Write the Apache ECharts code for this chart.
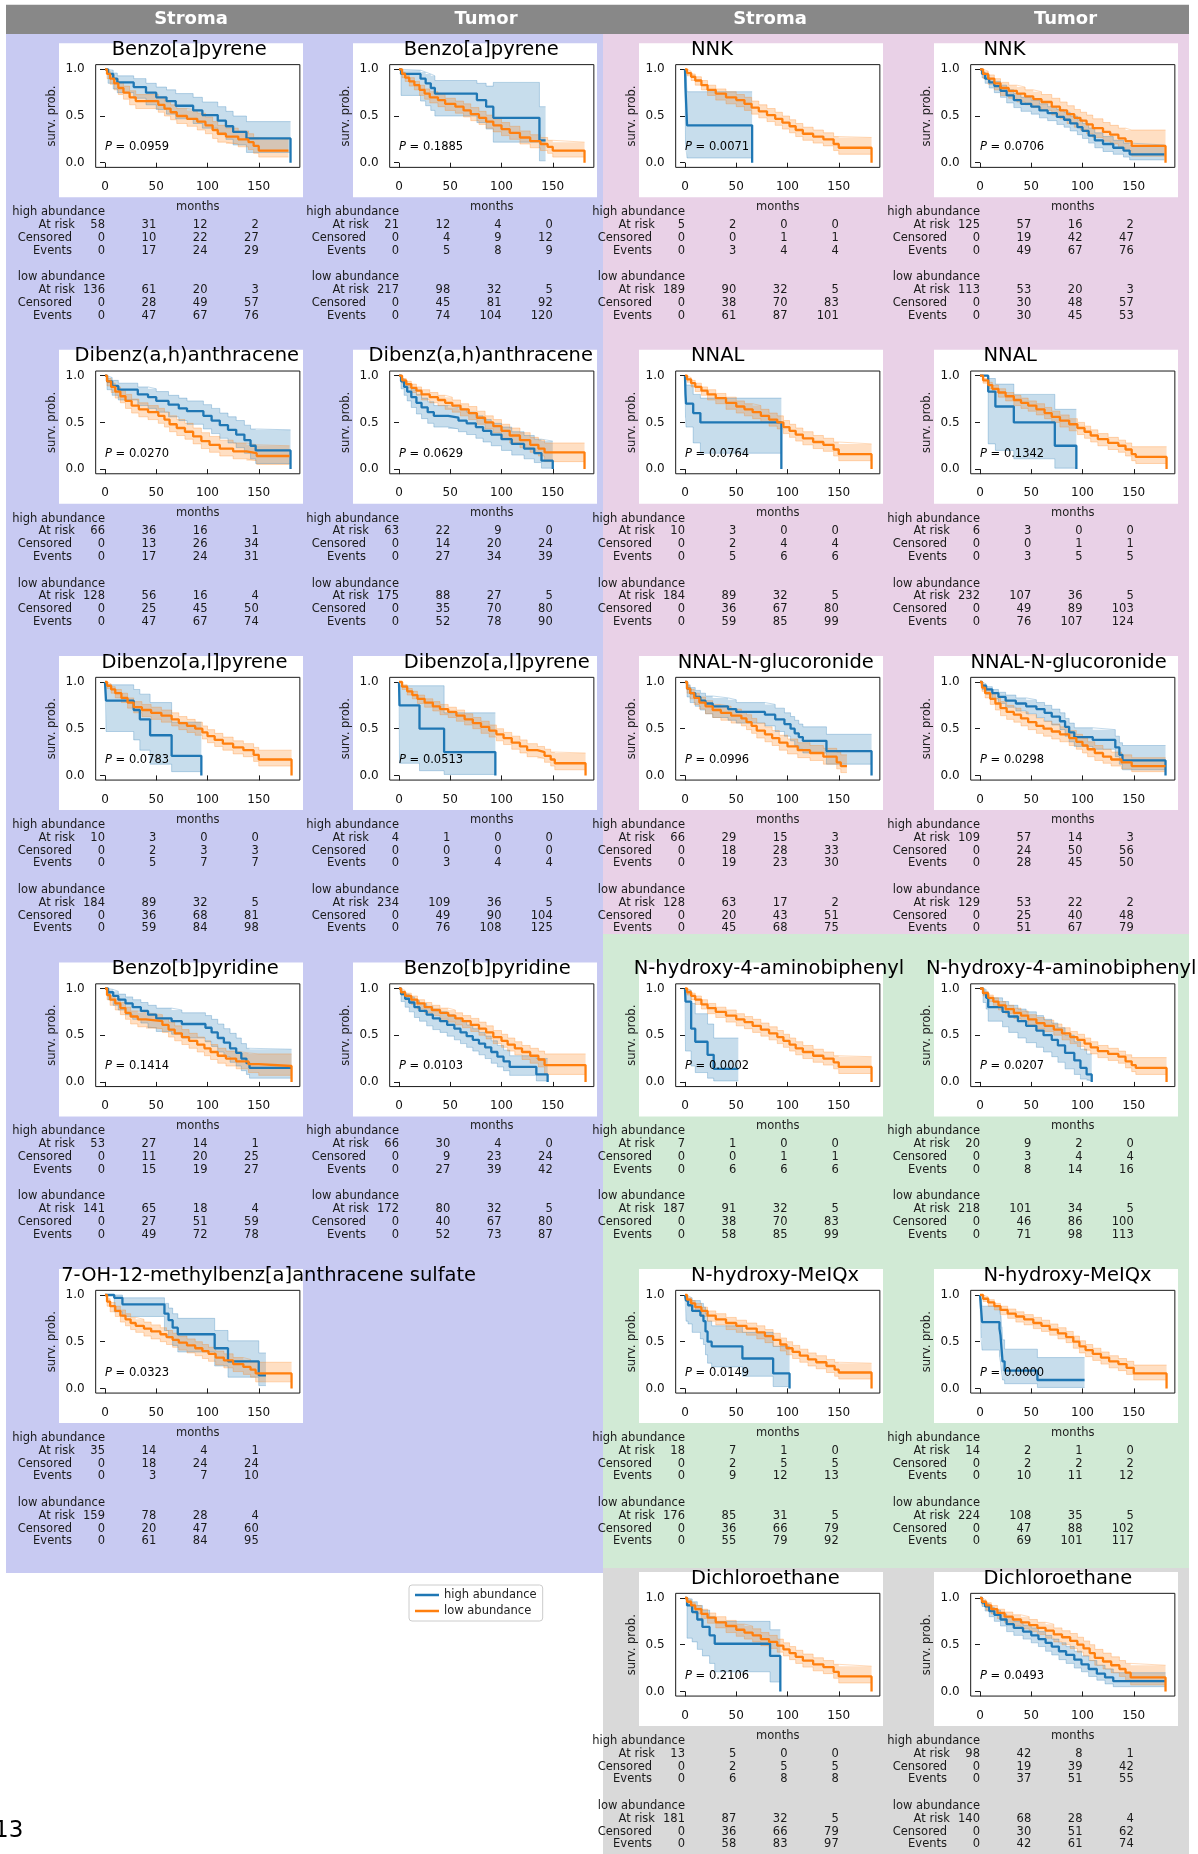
<!DOCTYPE html>
<html><head><meta charset="utf-8">
<script src="https://cdn.jsdelivr.net/npm/echarts@6.0.0/dist/echarts.min.js"></script>
<style>html,body{margin:0;padding:0;background:#fff;}#c{width:1198px;height:1854px;}</style>
</head><body><div id="c"></div>
<script>
// ---------- Kaplan-Meier curves: [months, survival, CI lower, CI upper] ----------
const km_bap_s_hi = [[0,1,1,1],[3,0.95,0.85,0.99],[8,0.9,0.79,0.96],[12,0.86,0.75,0.93],[28,0.81,0.69,0.9],[40,0.75,0.62,0.85],[50,0.7,0.57,0.81],[60,0.66,0.52,0.78],[69,0.61,0.47,0.74],[86,0.56,0.42,0.7],[95,0.51,0.37,0.65],[110,0.45,0.3,0.6],[118,0.39,0.25,0.55],[125,0.33,0.19,0.5],[138,0.26,0.11,0.44],[181,0,0.11,0.44]];
const km_bap_s_lo = [[0,1,1,1],[2,0.95,0.9,0.98],[5,0.9,0.84,0.94],[9,0.85,0.78,0.9],[13,0.8,0.73,0.86],[18,0.75,0.68,0.82],[24,0.7,0.62,0.77],[30,0.66,0.58,0.73],[52,0.62,0.54,0.7],[58,0.58,0.5,0.66],[64,0.54,0.46,0.62],[70,0.5,0.42,0.58],[80,0.47,0.39,0.56],[90,0.44,0.35,0.53],[98,0.4,0.31,0.49],[105,0.35,0.26,0.44],[110,0.31,0.22,0.4],[118,0.28,0.2,0.37],[130,0.25,0.17,0.34],[140,0.22,0.14,0.31],[145,0.18,0.1,0.27],[150,0.13,0.06,0.25],[179,0.13,0.06,0.25]];
const km_bap_t_hi = [[0,1,1,1],[2,0.95,0.72,0.99],[21,0.9,0.66,0.97],[26,0.85,0.61,0.95],[31,0.8,0.56,0.93],[35,0.74,0.5,0.88],[76,0.67,0.43,0.85],[85,0.6,0.36,0.82],[92,0.48,0.22,0.86],[137,0.24,0.02,0.6],[143,0.24,0.02,0.6]];
const km_bap_t_lo = [[0,1,1,1],[3,0.95,0.91,0.97],[6,0.91,0.87,0.94],[10,0.87,0.82,0.91],[15,0.83,0.78,0.87],[20,0.78,0.72,0.83],[25,0.74,0.68,0.79],[30,0.7,0.64,0.76],[38,0.67,0.6,0.73],[45,0.63,0.56,0.69],[55,0.6,0.53,0.66],[63,0.56,0.49,0.63],[70,0.52,0.45,0.59],[78,0.48,0.41,0.55],[85,0.44,0.37,0.51],[92,0.4,0.33,0.47],[100,0.36,0.29,0.43],[108,0.32,0.25,0.39],[118,0.27,0.2,0.34],[128,0.23,0.16,0.3],[138,0.2,0.13,0.27],[145,0.17,0.1,0.24],[150,0.13,0.06,0.22],[181,0,0.06,0.22]];
const km_nnk_s_hi = [[0,1,1,1],[0.5,0.8,0.2,0.97],[2,0.4,0.05,0.76],[65.5,0,0.05,0.76]];
const km_nnk_s_lo = [[0,1,1,1],[2,0.96,0.93,0.98],[6,0.92,0.88,0.95],[10,0.88,0.83,0.92],[16,0.83,0.78,0.88],[22,0.78,0.72,0.83],[30,0.74,0.67,0.79],[40,0.7,0.63,0.76],[50,0.67,0.6,0.73],[58,0.63,0.56,0.7],[65,0.59,0.52,0.66],[72,0.55,0.48,0.62],[80,0.51,0.44,0.58],[88,0.47,0.4,0.54],[95,0.43,0.36,0.5],[102,0.39,0.32,0.46],[108,0.35,0.28,0.42],[115,0.31,0.24,0.38],[125,0.28,0.21,0.35],[135,0.25,0.18,0.32],[145,0.2,0.13,0.28],[150,0.16,0.09,0.27],[182,0,0.09,0.27]];
const km_nnk_t_hi = [[0,1,1,1],[2,0.95,0.91,0.97],[5,0.9,0.85,0.94],[9,0.86,0.8,0.9],[14,0.82,0.75,0.87],[20,0.77,0.7,0.83],[26,0.72,0.64,0.78],[33,0.67,0.59,0.74],[40,0.63,0.55,0.7],[50,0.6,0.52,0.67],[58,0.56,0.48,0.63],[66,0.53,0.45,0.6],[75,0.49,0.41,0.57],[82,0.46,0.38,0.54],[88,0.42,0.34,0.5],[95,0.38,0.3,0.46],[100,0.34,0.26,0.42],[106,0.29,0.21,0.37],[112,0.24,0.16,0.32],[120,0.2,0.12,0.28],[130,0.16,0.09,0.24],[140,0.13,0.06,0.21],[146,0.09,0.03,0.19],[180,0.09,0.03,0.19]];
const km_nnk_t_lo = [[0,1,1,1],[3,0.95,0.9,0.98],[8,0.9,0.84,0.94],[14,0.85,0.78,0.9],[20,0.8,0.72,0.86],[28,0.77,0.69,0.83],[36,0.74,0.65,0.81],[44,0.71,0.62,0.78],[52,0.68,0.59,0.76],[60,0.65,0.56,0.73],[70,0.6,0.51,0.69],[78,0.56,0.47,0.65],[85,0.52,0.42,0.61],[92,0.48,0.38,0.57],[98,0.45,0.35,0.54],[104,0.41,0.31,0.51],[110,0.37,0.27,0.47],[120,0.33,0.23,0.43],[127,0.3,0.2,0.4],[135,0.26,0.16,0.37],[142,0.23,0.13,0.35],[148,0.18,0.07,0.35],[181,0,0.07,0.35]];
const km_dbah_s_hi = [[0,1,1,1],[2,0.94,0.85,0.98],[7,0.89,0.79,0.95],[13,0.85,0.74,0.92],[32,0.8,0.68,0.88],[42,0.77,0.65,0.86],[50,0.73,0.61,0.83],[62,0.69,0.56,0.79],[72,0.65,0.52,0.76],[80,0.62,0.48,0.73],[96,0.57,0.43,0.69],[104,0.52,0.38,0.65],[112,0.47,0.33,0.6],[120,0.42,0.28,0.56],[128,0.37,0.23,0.52],[136,0.31,0.17,0.47],[142,0.25,0.11,0.43],[147,0.2,0.06,0.42],[181,0,0.06,0.42]];
const km_dbah_s_lo = [[0,1,1,1],[2,0.94,0.89,0.97],[6,0.88,0.82,0.92],[10,0.83,0.76,0.88],[15,0.78,0.71,0.84],[20,0.73,0.65,0.8],[26,0.68,0.6,0.75],[33,0.64,0.56,0.71],[42,0.61,0.53,0.68],[52,0.57,0.49,0.65],[58,0.53,0.45,0.61],[63,0.48,0.4,0.57],[70,0.44,0.36,0.53],[78,0.4,0.32,0.49],[86,0.35,0.27,0.44],[94,0.3,0.22,0.39],[102,0.26,0.18,0.35],[112,0.22,0.14,0.31],[125,0.19,0.11,0.28],[138,0.17,0.09,0.26],[148,0.14,0.05,0.25],[180,0.14,0.05,0.25]];
const km_dbah_t_hi = [[0,1,1,1],[2,0.94,0.86,0.97],[5,0.88,0.79,0.94],[8,0.83,0.73,0.9],[12,0.77,0.66,0.85],[17,0.71,0.59,0.8],[22,0.66,0.54,0.76],[28,0.61,0.49,0.72],[34,0.57,0.45,0.68],[48,0.55,0.43,0.66],[58,0.52,0.4,0.64],[66,0.49,0.37,0.61],[75,0.45,0.33,0.57],[82,0.41,0.29,0.53],[90,0.37,0.25,0.49],[100,0.32,0.2,0.45],[110,0.27,0.15,0.4],[122,0.22,0.11,0.36],[132,0.17,0.07,0.32],[139,0.09,0.01,0.3],[150,0,0.01,0.3]];
const km_dbah_t_lo = [[0,1,1,1],[3,0.95,0.92,0.97],[7,0.91,0.87,0.94],[12,0.87,0.82,0.91],[17,0.84,0.79,0.88],[22,0.8,0.74,0.85],[30,0.77,0.71,0.82],[38,0.74,0.68,0.79],[45,0.71,0.64,0.77],[52,0.68,0.61,0.74],[60,0.64,0.57,0.7],[68,0.6,0.53,0.67],[76,0.55,0.48,0.62],[84,0.5,0.43,0.57],[92,0.46,0.39,0.53],[100,0.41,0.33,0.48],[108,0.36,0.28,0.44],[118,0.31,0.23,0.39],[128,0.26,0.18,0.34],[136,0.22,0.14,0.31],[142,0.18,0.08,0.28],[181,0,0.08,0.28]];
const km_nnal_s_hi = [[0,1,1,1],[0.5,0.8,0.55,0.97],[1,0.7,0.45,0.9],[8,0.6,0.28,0.8],[15,0.5,0.17,0.76],[94,0,0.17,0.76]];
const km_nnal_s_lo = [[0,1,1,1],[2,0.96,0.93,0.98],[6,0.92,0.88,0.95],[10,0.88,0.83,0.92],[16,0.84,0.79,0.88],[22,0.8,0.74,0.85],[30,0.76,0.7,0.81],[40,0.71,0.64,0.77],[50,0.67,0.6,0.73],[58,0.64,0.57,0.7],[66,0.61,0.54,0.68],[74,0.57,0.5,0.64],[82,0.53,0.46,0.6],[90,0.5,0.43,0.57],[96,0.45,0.38,0.52],[102,0.41,0.34,0.48],[108,0.37,0.3,0.44],[115,0.33,0.26,0.4],[125,0.29,0.22,0.36],[135,0.26,0.19,0.33],[145,0.21,0.14,0.29],[150,0.16,0.09,0.27],[182,0,0.09,0.27]];
const km_nnal_t_hi = [[0,1,1,1],[8,0.83,0.27,0.97],[15,0.67,0.2,0.91],[33,0.5,0.11,0.8],[73,0.25,0.01,0.64],[94,0,0.01,0.64]];
const km_nnal_t_lo = [[0,1,1,1],[3,0.95,0.92,0.97],[8,0.9,0.86,0.93],[12,0.86,0.82,0.9],[18,0.82,0.77,0.86],[25,0.78,0.73,0.82],[33,0.74,0.68,0.79],[40,0.71,0.65,0.76],[47,0.68,0.62,0.73],[55,0.64,0.58,0.7],[63,0.6,0.54,0.66],[70,0.56,0.5,0.62],[78,0.52,0.45,0.58],[87,0.48,0.41,0.54],[95,0.44,0.37,0.5],[102,0.4,0.33,0.46],[108,0.36,0.29,0.42],[115,0.32,0.25,0.38],[125,0.28,0.21,0.34],[135,0.25,0.18,0.31],[142,0.21,0.14,0.28],[148,0.16,0.09,0.24],[152,0.13,0.06,0.24],[182,0,0.06,0.24]];
const km_dbal_s_hi = [[0,1,1,1],[1,0.8,0.47,0.97],[28,0.7,0.38,0.92],[34,0.6,0.27,0.87],[44,0.43,0.12,0.78],[65,0.21,0.04,0.57],[94,0,0.04,0.57]];
const km_dbal_s_lo = [[0,1,1,1],[2,0.96,0.93,0.98],[6,0.92,0.88,0.95],[10,0.88,0.83,0.92],[16,0.83,0.78,0.88],[22,0.78,0.72,0.83],[28,0.73,0.67,0.79],[36,0.7,0.63,0.76],[45,0.67,0.6,0.73],[55,0.64,0.57,0.7],[65,0.6,0.53,0.67],[72,0.56,0.49,0.63],[80,0.53,0.46,0.6],[88,0.5,0.43,0.57],[95,0.46,0.39,0.53],[100,0.42,0.35,0.49],[107,0.38,0.31,0.45],[115,0.34,0.27,0.41],[125,0.3,0.23,0.37],[135,0.27,0.2,0.34],[145,0.22,0.15,0.3],[150,0.17,0.1,0.27],[182,0,0.1,0.27]];
const km_dbal_t_hi = [[0,1,1,1],[0.5,0.75,0.13,0.96],[20,0.5,0.05,0.96],[44,0.25,0.01,0.67],[94,0,0.01,0.67]];
const km_dbal_t_lo = [[0,1,1,1],[3,0.95,0.92,0.97],[8,0.9,0.86,0.93],[13,0.86,0.82,0.9],[18,0.82,0.77,0.86],[25,0.78,0.73,0.82],[33,0.74,0.69,0.79],[40,0.71,0.65,0.76],[48,0.68,0.62,0.73],[56,0.64,0.58,0.7],[64,0.6,0.54,0.66],[72,0.56,0.5,0.62],[80,0.52,0.45,0.58],[88,0.48,0.41,0.54],[95,0.44,0.37,0.5],[102,0.4,0.33,0.46],[110,0.35,0.28,0.42],[118,0.31,0.24,0.38],[125,0.27,0.2,0.34],[135,0.25,0.18,0.31],[142,0.21,0.14,0.28],[148,0.17,0.1,0.25],[152,0.13,0.06,0.24],[182,0,0.06,0.24]];
const km_nnalg_s_hi = [[0,1,1,1],[2,0.93,0.84,0.97],[5,0.88,0.78,0.94],[10,0.84,0.74,0.91],[15,0.8,0.7,0.88],[20,0.77,0.66,0.85],[27,0.74,0.62,0.83],[42,0.71,0.59,0.81],[50,0.68,0.56,0.78],[78,0.65,0.53,0.76],[88,0.6,0.47,0.72],[97,0.55,0.42,0.67],[103,0.5,0.37,0.63],[107,0.45,0.32,0.59],[111,0.41,0.28,0.55],[115,0.37,0.24,0.52],[138,0.26,0.12,0.44],[182,0,0.12,0.44]];
const km_nnalg_s_lo = [[0,1,1,1],[2,0.93,0.88,0.96],[5,0.88,0.82,0.92],[9,0.83,0.76,0.88],[14,0.78,0.71,0.84],[20,0.74,0.66,0.8],[27,0.7,0.62,0.76],[35,0.67,0.59,0.74],[45,0.64,0.56,0.71],[55,0.61,0.53,0.68],[60,0.57,0.49,0.65],[65,0.53,0.45,0.61],[70,0.48,0.4,0.56],[78,0.44,0.36,0.52],[85,0.4,0.32,0.48],[92,0.35,0.27,0.43],[100,0.31,0.23,0.39],[110,0.27,0.19,0.35],[122,0.24,0.16,0.32],[135,0.2,0.12,0.29],[148,0.14,0.07,0.25],[152,0.1,0.03,0.22],[158,0.1,0.03,0.22]];
const km_nnalg_t_hi = [[0,1,1,1],[2,0.96,0.92,0.98],[6,0.92,0.87,0.95],[12,0.88,0.82,0.92],[18,0.84,0.77,0.89],[25,0.8,0.73,0.86],[35,0.77,0.69,0.83],[45,0.74,0.66,0.81],[55,0.71,0.62,0.78],[63,0.67,0.58,0.75],[70,0.63,0.54,0.71],[78,0.58,0.49,0.67],[83,0.52,0.42,0.61],[87,0.46,0.36,0.56],[92,0.41,0.31,0.51],[110,0.38,0.28,0.49],[132,0.3,0.2,0.42],[136,0.22,0.12,0.35],[139,0.16,0.06,0.32],[181,0,0.06,0.32]];
const km_nnalg_t_lo = [[0,1,1,1],[2,0.94,0.9,0.97],[5,0.88,0.83,0.92],[10,0.82,0.76,0.87],[15,0.77,0.7,0.83],[20,0.72,0.64,0.79],[26,0.68,0.6,0.75],[33,0.65,0.57,0.72],[40,0.61,0.53,0.68],[47,0.57,0.49,0.65],[55,0.53,0.45,0.61],[62,0.5,0.42,0.58],[70,0.47,0.39,0.55],[78,0.44,0.36,0.52],[87,0.4,0.32,0.48],[94,0.36,0.28,0.44],[100,0.32,0.24,0.4],[105,0.28,0.2,0.36],[112,0.24,0.16,0.32],[120,0.2,0.13,0.28],[128,0.17,0.1,0.25],[138,0.14,0.07,0.22],[148,0.1,0.04,0.19],[181,0.1,0.04,0.19]];
const km_bbp_s_hi = [[0,1,1,1],[3,0.96,0.88,0.99],[8,0.92,0.82,0.97],[13,0.88,0.77,0.94],[20,0.84,0.72,0.91],[27,0.8,0.67,0.88],[35,0.76,0.63,0.85],[42,0.72,0.58,0.82],[50,0.68,0.54,0.79],[65,0.65,0.51,0.77],[75,0.62,0.47,0.74],[98,0.58,0.43,0.71],[104,0.53,0.38,0.67],[110,0.47,0.32,0.62],[116,0.42,0.27,0.57],[122,0.36,0.21,0.52],[128,0.31,0.17,0.47],[133,0.25,0.12,0.41],[138,0.2,0.08,0.36],[141,0.15,0.04,0.35],[182,0.15,0.04,0.35]];
const km_bbp_s_lo = [[0,1,1,1],[2,0.93,0.88,0.96],[5,0.88,0.82,0.92],[10,0.84,0.77,0.89],[15,0.79,0.72,0.85],[20,0.74,0.67,0.8],[25,0.7,0.62,0.76],[32,0.67,0.59,0.74],[40,0.65,0.57,0.72],[56,0.61,0.53,0.68],[62,0.56,0.48,0.64],[68,0.52,0.44,0.6],[75,0.48,0.4,0.56],[82,0.44,0.36,0.52],[90,0.4,0.32,0.48],[97,0.36,0.28,0.44],[103,0.32,0.24,0.4],[110,0.28,0.2,0.36],[118,0.25,0.17,0.33],[128,0.22,0.14,0.31],[140,0.19,0.1,0.3],[150,0.17,0.07,0.3],[182,0,0.07,0.3]];
const km_bbp_t_hi = [[0,1,1,1],[2,0.94,0.86,0.97],[6,0.89,0.8,0.94],[10,0.85,0.75,0.91],[15,0.8,0.69,0.87],[20,0.76,0.65,0.84],[27,0.72,0.6,0.81],[33,0.68,0.56,0.78],[40,0.65,0.53,0.75],[47,0.61,0.49,0.72],[54,0.57,0.45,0.68],[60,0.53,0.41,0.65],[66,0.49,0.37,0.61],[72,0.45,0.33,0.57],[78,0.41,0.29,0.53],[84,0.37,0.25,0.49],[90,0.32,0.2,0.44],[96,0.27,0.16,0.39],[102,0.22,0.12,0.34],[108,0.16,0.07,0.28],[134,0.08,0.01,0.25],[145,0,0.01,0.25]];
const km_bbp_t_lo = [[0,1,1,1],[2,0.96,0.93,0.98],[6,0.92,0.88,0.95],[12,0.88,0.83,0.92],[18,0.84,0.78,0.88],[25,0.8,0.74,0.85],[32,0.77,0.71,0.82],[40,0.74,0.67,0.79],[48,0.71,0.64,0.77],[55,0.68,0.61,0.74],[62,0.65,0.58,0.71],[70,0.61,0.54,0.68],[78,0.57,0.5,0.64],[85,0.53,0.46,0.6],[92,0.48,0.41,0.55],[100,0.44,0.37,0.51],[106,0.4,0.33,0.47],[113,0.36,0.29,0.43],[120,0.32,0.24,0.39],[128,0.28,0.2,0.36],[136,0.24,0.16,0.33],[142,0.18,0.08,0.3],[182,0,0.08,0.3]];
const km_nh4_s_hi = [[0,1,1,1],[0.5,0.86,0.33,0.98],[6,0.57,0.17,0.84],[10,0.43,0.1,0.73],[22,0.29,0.04,0.62],[28,0.14,0.01,0.47],[52,0.14,0.01,0.47]];
const km_nh4_s_lo = [[0,1,1,1],[2,0.96,0.93,0.98],[6,0.92,0.88,0.95],[10,0.88,0.83,0.92],[16,0.83,0.78,0.88],[22,0.79,0.73,0.84],[30,0.75,0.69,0.8],[40,0.71,0.64,0.77],[50,0.67,0.6,0.73],[58,0.64,0.57,0.7],[66,0.6,0.53,0.67],[74,0.56,0.49,0.63],[82,0.52,0.45,0.59],[90,0.48,0.41,0.55],[96,0.44,0.37,0.51],[102,0.4,0.33,0.47],[108,0.36,0.29,0.43],[115,0.32,0.25,0.39],[125,0.28,0.21,0.35],[135,0.25,0.18,0.32],[145,0.21,0.14,0.28],[150,0.16,0.09,0.27],[182,0,0.09,0.27]];
const km_nh4_t_hi = [[0,1,1,1],[3,0.95,0.85,0.99],[6,0.9,0.78,0.96],[8,0.8,0.65,0.9],[22,0.75,0.59,0.86],[28,0.7,0.53,0.82],[37,0.65,0.47,0.78],[45,0.6,0.42,0.75],[55,0.55,0.37,0.71],[62,0.5,0.32,0.67],[70,0.45,0.27,0.63],[76,0.39,0.21,0.58],[83,0.31,0.14,0.5],[92,0.23,0.08,0.43],[98,0.15,0.03,0.35],[104,0.08,0.01,0.3],[109,0,0.01,0.3]];
const km_nh4_t_lo = [[0,1,1,1],[3,0.95,0.92,0.97],[8,0.9,0.86,0.93],[13,0.86,0.82,0.9],[18,0.82,0.77,0.86],[25,0.78,0.73,0.82],[33,0.74,0.68,0.79],[40,0.71,0.65,0.76],[47,0.67,0.61,0.72],[55,0.63,0.57,0.69],[63,0.6,0.54,0.66],[72,0.56,0.5,0.62],[80,0.52,0.45,0.58],[88,0.48,0.41,0.54],[95,0.45,0.38,0.51],[102,0.41,0.34,0.47],[108,0.37,0.3,0.43],[115,0.33,0.26,0.39],[125,0.3,0.23,0.36],[135,0.27,0.2,0.33],[142,0.22,0.15,0.29],[148,0.18,0.11,0.26],[152,0.15,0.08,0.26],[182,0,0.08,0.26]];
const km_oh7_s_hi = [[0,1,1,1],[9,0.97,0.82,1.0],[17,0.9,0.77,0.97],[58,0.8,0.62,0.91],[62,0.73,0.54,0.86],[66,0.65,0.46,0.8],[71,0.58,0.39,0.75],[107,0.43,0.24,0.62],[120,0.29,0.12,0.51],[150,0.14,0.03,0.38],[157,0.14,0.03,0.38]];
const km_oh7_s_lo = [[0,1,1,1],[2,0.93,0.88,0.96],[5,0.88,0.82,0.92],[10,0.83,0.77,0.88],[15,0.78,0.71,0.84],[20,0.74,0.67,0.8],[25,0.7,0.63,0.76],[30,0.67,0.6,0.74],[38,0.64,0.56,0.71],[45,0.61,0.53,0.68],[54,0.58,0.5,0.65],[60,0.55,0.47,0.62],[66,0.52,0.44,0.59],[72,0.49,0.41,0.56],[80,0.46,0.38,0.53],[88,0.43,0.35,0.5],[95,0.4,0.32,0.47],[101,0.37,0.29,0.44],[108,0.33,0.25,0.4],[116,0.3,0.22,0.37],[125,0.26,0.18,0.33],[135,0.23,0.15,0.31],[142,0.2,0.12,0.28],[147,0.16,0.07,0.28],[182,0,0.07,0.28]];
const km_meiqx_s_hi = [[0,1,1,1],[1,0.94,0.72,0.99],[3,0.89,0.69,0.97],[7,0.83,0.6,0.94],[15,0.78,0.53,0.91],[18,0.72,0.47,0.87],[20,0.61,0.36,0.8],[22,0.5,0.27,0.72],[26,0.45,0.23,0.67],[56,0.32,0.13,0.6],[86,0.16,0.02,0.45],[102,0,0.02,0.45]];
const km_meiqx_s_lo = [[0,1,1,1],[2,0.95,0.92,0.97],[6,0.91,0.87,0.94],[10,0.87,0.82,0.91],[16,0.83,0.77,0.87],[22,0.78,0.72,0.83],[30,0.74,0.68,0.8],[40,0.7,0.63,0.76],[50,0.67,0.6,0.73],[60,0.64,0.57,0.7],[70,0.6,0.53,0.67],[78,0.56,0.49,0.63],[86,0.52,0.45,0.59],[93,0.47,0.4,0.54],[99,0.43,0.36,0.5],[105,0.39,0.32,0.46],[112,0.35,0.28,0.42],[120,0.31,0.24,0.38],[128,0.28,0.21,0.35],[138,0.24,0.17,0.31],[146,0.2,0.13,0.28],[150,0.17,0.1,0.27],[182,0,0.1,0.27]];
const km_meiqx_t_hi = [[0,1,1,1],[1,0.86,0.54,0.96],[2,0.71,0.41,0.88],[19,0.64,0.34,0.84],[20,0.57,0.28,0.78],[21,0.43,0.18,0.66],[22,0.29,0.09,0.52],[24,0.19,0.05,0.42],[56,0.09,0.01,0.33],[102,0.09,0.01,0.33]];
const km_meiqx_t_lo = [[0,1,1,1],[3,0.96,0.93,0.98],[8,0.92,0.88,0.95],[14,0.88,0.84,0.91],[20,0.84,0.79,0.88],[27,0.8,0.75,0.85],[35,0.77,0.71,0.82],[43,0.74,0.68,0.79],[52,0.7,0.64,0.76],[60,0.67,0.61,0.73],[68,0.63,0.57,0.69],[76,0.59,0.53,0.65],[84,0.55,0.49,0.61],[91,0.5,0.43,0.56],[97,0.45,0.38,0.51],[103,0.41,0.34,0.47],[110,0.37,0.3,0.43],[118,0.33,0.26,0.39],[126,0.29,0.22,0.35],[135,0.26,0.19,0.32],[143,0.22,0.15,0.29],[150,0.16,0.09,0.25],[182,0,0.09,0.25]];
const km_dce_s_hi = [[0,1,1,1],[2,0.92,0.57,0.99],[7,0.85,0.53,0.96],[12,0.77,0.45,0.92],[17,0.69,0.38,0.87],[24,0.6,0.3,0.8],[29,0.51,0.21,0.75],[83,0.38,0.1,0.66],[93,0,0.1,0.66]];
const km_dce_s_lo = [[0,1,1,1],[2,0.96,0.93,0.98],[6,0.92,0.88,0.95],[10,0.88,0.83,0.92],[16,0.83,0.78,0.88],[22,0.79,0.73,0.84],[30,0.74,0.68,0.8],[40,0.7,0.63,0.76],[50,0.66,0.59,0.72],[58,0.63,0.56,0.7],[66,0.6,0.53,0.67],[74,0.56,0.49,0.63],[82,0.53,0.46,0.6],[90,0.49,0.42,0.56],[96,0.45,0.38,0.52],[102,0.41,0.34,0.48],[108,0.37,0.3,0.44],[115,0.33,0.26,0.4],[125,0.29,0.22,0.36],[135,0.26,0.19,0.33],[145,0.21,0.14,0.29],[150,0.16,0.09,0.27],[182,0,0.09,0.27]];
const km_dce_t_hi = [[0,1,1,1],[2,0.95,0.91,0.97],[5,0.91,0.86,0.94],[9,0.86,0.8,0.9],[14,0.82,0.75,0.87],[20,0.77,0.7,0.83],[26,0.72,0.64,0.79],[33,0.68,0.6,0.75],[42,0.64,0.56,0.71],[50,0.6,0.52,0.68],[57,0.56,0.48,0.64],[64,0.52,0.43,0.6],[70,0.48,0.39,0.56],[77,0.43,0.34,0.52],[84,0.39,0.3,0.48],[92,0.34,0.25,0.43],[99,0.29,0.21,0.38],[106,0.24,0.16,0.33],[114,0.19,0.12,0.28],[122,0.15,0.08,0.24],[130,0.11,0.05,0.2],[181,0.11,0.05,0.2]];
const km_dce_t_lo = [[0,1,1,1],[2,0.96,0.93,0.98],[6,0.92,0.87,0.95],[11,0.88,0.83,0.92],[17,0.84,0.78,0.88],[24,0.8,0.74,0.85],[32,0.77,0.7,0.82],[40,0.74,0.67,0.8],[48,0.71,0.64,0.77],[56,0.68,0.61,0.74],[64,0.65,0.57,0.72],[72,0.61,0.53,0.68],[80,0.58,0.5,0.65],[88,0.54,0.46,0.62],[95,0.5,0.42,0.58],[101,0.46,0.38,0.54],[107,0.41,0.33,0.5],[112,0.36,0.28,0.45],[120,0.32,0.24,0.41],[128,0.28,0.2,0.37],[136,0.24,0.16,0.33],[142,0.2,0.12,0.3],[147,0.15,0.07,0.28],[181,0,0.07,0.28]];

// ---------- number-at-risk tables: [At risk], [Censored], [Events] at 0/50/100/150 months ----------
const rk_bap_s_hi = [[58,31,12,2],[0,10,22,27],[0,17,24,29]];
const rk_bap_s_lo = [[136,61,20,3],[0,28,49,57],[0,47,67,76]];
const rk_bap_t_hi = [[21,12,4,0],[0,4,9,12],[0,5,8,9]];
const rk_bap_t_lo = [[217,98,32,5],[0,45,81,92],[0,74,104,120]];
const rk_nnk_s_hi = [[5,2,0,0],[0,0,1,1],[0,3,4,4]];
const rk_nnk_s_lo = [[189,90,32,5],[0,38,70,83],[0,61,87,101]];
const rk_nnk_t_hi = [[125,57,16,2],[0,19,42,47],[0,49,67,76]];
const rk_nnk_t_lo = [[113,53,20,3],[0,30,48,57],[0,30,45,53]];
const rk_dbah_s_hi = [[66,36,16,1],[0,13,26,34],[0,17,24,31]];
const rk_dbah_s_lo = [[128,56,16,4],[0,25,45,50],[0,47,67,74]];
const rk_dbah_t_hi = [[63,22,9,0],[0,14,20,24],[0,27,34,39]];
const rk_dbah_t_lo = [[175,88,27,5],[0,35,70,80],[0,52,78,90]];
const rk_nnal_s_hi = [[10,3,0,0],[0,2,4,4],[0,5,6,6]];
const rk_nnal_s_lo = [[184,89,32,5],[0,36,67,80],[0,59,85,99]];
const rk_nnal_t_hi = [[6,3,0,0],[0,0,1,1],[0,3,5,5]];
const rk_nnal_t_lo = [[232,107,36,5],[0,49,89,103],[0,76,107,124]];
const rk_dbal_s_hi = [[10,3,0,0],[0,2,3,3],[0,5,7,7]];
const rk_dbal_s_lo = [[184,89,32,5],[0,36,68,81],[0,59,84,98]];
const rk_dbal_t_hi = [[4,1,0,0],[0,0,0,0],[0,3,4,4]];
const rk_dbal_t_lo = [[234,109,36,5],[0,49,90,104],[0,76,108,125]];
const rk_nnalg_s_hi = [[66,29,15,3],[0,18,28,33],[0,19,23,30]];
const rk_nnalg_s_lo = [[128,63,17,2],[0,20,43,51],[0,45,68,75]];
const rk_nnalg_t_hi = [[109,57,14,3],[0,24,50,56],[0,28,45,50]];
const rk_nnalg_t_lo = [[129,53,22,2],[0,25,40,48],[0,51,67,79]];
const rk_bbp_s_hi = [[53,27,14,1],[0,11,20,25],[0,15,19,27]];
const rk_bbp_s_lo = [[141,65,18,4],[0,27,51,59],[0,49,72,78]];
const rk_bbp_t_hi = [[66,30,4,0],[0,9,23,24],[0,27,39,42]];
const rk_bbp_t_lo = [[172,80,32,5],[0,40,67,80],[0,52,73,87]];
const rk_nh4_s_hi = [[7,1,0,0],[0,0,1,1],[0,6,6,6]];
const rk_nh4_s_lo = [[187,91,32,5],[0,38,70,83],[0,58,85,99]];
const rk_nh4_t_hi = [[20,9,2,0],[0,3,4,4],[0,8,14,16]];
const rk_nh4_t_lo = [[218,101,34,5],[0,46,86,100],[0,71,98,113]];
const rk_oh7_s_hi = [[35,14,4,1],[0,18,24,24],[0,3,7,10]];
const rk_oh7_s_lo = [[159,78,28,4],[0,20,47,60],[0,61,84,95]];
const rk_meiqx_s_hi = [[18,7,1,0],[0,2,5,5],[0,9,12,13]];
const rk_meiqx_s_lo = [[176,85,31,5],[0,36,66,79],[0,55,79,92]];
const rk_meiqx_t_hi = [[14,2,1,0],[0,2,2,2],[0,10,11,12]];
const rk_meiqx_t_lo = [[224,108,35,5],[0,47,88,102],[0,69,101,117]];
const rk_dce_s_hi = [[13,5,0,0],[0,2,5,5],[0,6,8,8]];
const rk_dce_s_lo = [[181,87,32,5],[0,36,66,79],[0,58,83,97]];
const rk_dce_t_hi = [[98,42,8,1],[0,19,39,42],[0,37,51,55]];
const rk_dce_t_lo = [[140,68,28,4],[0,30,51,62],[0,42,61,74]];

// ---------- panel labels ----------
const titles = ['Benzo[a]pyrene','Benzo[a]pyrene','NNK','NNK','Dibenz(a,h)anthracene','Dibenz(a,h)anthracene','NNAL','NNAL','Dibenzo[a,l]pyrene','Dibenzo[a,l]pyrene','NNAL-N-glucoronide','NNAL-N-glucoronide','Benzo[b]pyridine','Benzo[b]pyridine','N-hydroxy-4-aminobiphenyl','N-hydroxy-4-aminobiphenyl','7-OH-12-methylbenz[a]anthracene sulfate','N-hydroxy-MeIQx','N-hydroxy-MeIQx','Dichloroethane','Dichloroethane'];
const pValues = ['0.0959','0.1885','0.0071','0.0706','0.0270','0.0629','0.0764','0.1342','0.0783','0.0513','0.0996','0.0298','0.1414','0.0103','0.0002','0.0207','0.0323','0.0149','0.0000','0.2106','0.0493'];
const headers = ['Stroma','Tumor','Stroma','Tumor'];
const xTicks = [0,50,100,150];
const yTicks = [0,0.5,1];
const riskRowLabels = ['At risk','Censored','Events'];
const groupLabels = ['high abundance','low abundance'];

const curvesHigh = [km_bap_s_hi,km_bap_t_hi,km_nnk_s_hi,km_nnk_t_hi,km_dbah_s_hi,km_dbah_t_hi,km_nnal_s_hi,km_nnal_t_hi,km_dbal_s_hi,km_dbal_t_hi,km_nnalg_s_hi,km_nnalg_t_hi,km_bbp_s_hi,km_bbp_t_hi,km_nh4_s_hi,km_nh4_t_hi,km_oh7_s_hi,km_meiqx_s_hi,km_meiqx_t_hi,km_dce_s_hi,km_dce_t_hi];
const curvesLow = [km_bap_s_lo,km_bap_t_lo,km_nnk_s_lo,km_nnk_t_lo,km_dbah_s_lo,km_dbah_t_lo,km_nnal_s_lo,km_nnal_t_lo,km_dbal_s_lo,km_dbal_t_lo,km_nnalg_s_lo,km_nnalg_t_lo,km_bbp_s_lo,km_bbp_t_lo,km_nh4_s_lo,km_nh4_t_lo,km_oh7_s_lo,km_meiqx_s_lo,km_meiqx_t_lo,km_dce_s_lo,km_dce_t_lo];
const riskHigh = [rk_bap_s_hi,rk_bap_t_hi,rk_nnk_s_hi,rk_nnk_t_hi,rk_dbah_s_hi,rk_dbah_t_hi,rk_nnal_s_hi,rk_nnal_t_hi,rk_dbal_s_hi,rk_dbal_t_hi,rk_nnalg_s_hi,rk_nnalg_t_hi,rk_bbp_s_hi,rk_bbp_t_hi,rk_nh4_s_hi,rk_nh4_t_hi,rk_oh7_s_hi,rk_meiqx_s_hi,rk_meiqx_t_hi,rk_dce_s_hi,rk_dce_t_hi];
const riskLow = [rk_bap_s_lo,rk_bap_t_lo,rk_nnk_s_lo,rk_nnk_t_lo,rk_dbah_s_lo,rk_dbah_t_lo,rk_nnal_s_lo,rk_nnal_t_lo,rk_dbal_s_lo,rk_dbal_t_lo,rk_nnalg_s_lo,rk_nnalg_t_lo,rk_bbp_s_lo,rk_bbp_t_lo,rk_nh4_s_lo,rk_nh4_t_lo,rk_oh7_s_lo,rk_meiqx_s_lo,rk_meiqx_t_lo,rk_dce_s_lo,rk_dce_t_lo];

// ---------- layout (pixels) ----------
const panelCol = [0,1,2,3,0,1,2,3,0,1,2,3,0,1,2,3,0,2,3,2,3];
const panelRow = [0,0,0,0,1,1,1,1,2,2,2,2,3,3,3,3,4,4,4,5,5];
const titleLeft = [111.7,403.7,691,983.5,74.6,368.5,691,983.5,101.4,403.7,677.7,970.5,111.7,403.7,633.7,926,61.2,691,983.5,691,983.5];
const COL_X0 = [105,399,685,980];
const ROW_Y1 = [69.3,375.7,682,988.5,1295,1598];
const HEADER_X = [191,486,770,1065.5];
const PXM = 1.025, PXU = 93.4;
const XMIN = -9.1, XMAX = 190.1, YMIN = -0.05, YMAX = 1.05;
const FONT = 'DejaVu Sans';
const BLUE = '#1f77b4', ORANGE = '#ff7f0e';

const chart = echarts.init(document.getElementById('c'), null, {renderer:'canvas', width:1198, height:1854});

function bandSeries(i, rows, color) {
  return {type:'custom', xAxisIndex:i, yAxisIndex:i, silent:true, z:1, clip:true, animation:false,
    data: rows.map(r => [r[0], r[2], r[3]]),
    renderItem: (params, api) => {
      if (params.dataIndex !== 0) return null;
      const pts = [];
      for (let k = 0; k < rows.length - 1; k++) {
        pts.push(api.coord([rows[k][0], rows[k][3]]));
        pts.push(api.coord([rows[k + 1][0], rows[k][3]]));
      }
      for (let k = rows.length - 2; k >= 0; k--) {
        pts.push(api.coord([rows[k + 1][0], rows[k][2]]));
        pts.push(api.coord([rows[k][0], rows[k][2]]));
      }
      return {type:'polygon', shape:{points:pts}, style:{fill:color, opacity:0.25}};
    }};
}

const grids = [], xAxes = [], yAxes = [], series = [];
titles.forEach((t, i) => {
  const X0 = COL_X0[panelCol[i]], Y1 = ROW_Y1[panelRow[i]];
  grids.push({left: X0 + XMIN*PXM, top: Y1 - (YMAX-1)*PXU, width: (XMAX-XMIN)*PXM, height: (YMAX-YMIN)*PXU,
    show:true, borderColor:'#1a1a1a', borderWidth:1, backgroundColor:'rgba(0,0,0,0)', containLabel:false});
  xAxes.push({gridIndex:i, type:'value', min:XMIN, max:XMAX, splitLine:{show:false}, axisLine:{show:false},
    axisTick:{show:true, length:5, customValues:xTicks, lineStyle:{color:'#1a1a1a', width:1}},
    axisLabel:{customValues:xTicks, fontFamily:FONT, fontSize:12, color:'#111', margin:13.5},
    name:'months', nameLocation:'middle', nameGap:33.5, nameTextStyle:{fontFamily:FONT, fontSize:11.5, color:'#222'}});
  yAxes.push({gridIndex:i, type:'value', min:YMIN, max:YMAX, splitLine:{show:false}, axisLine:{show:false},
    axisTick:{show:true, length:5, customValues:yTicks, lineStyle:{color:'#1a1a1a', width:1}},
    axisLabel:{customValues:yTicks, formatter:v => Number(v).toFixed(1), fontFamily:FONT, fontSize:12, color:'#111', margin:11},
    name:'surv. prob.', nameLocation:'middle', nameGap:38, nameRotate:90, nameTextStyle:{fontFamily:FONT, fontSize:11.5, color:'#222'}});
  [[curvesHigh[i], BLUE, groupLabels[0]], [curvesLow[i], ORANGE, groupLabels[1]]].forEach(([rows, color, name]) => {
    const common = {type:'line', xAxisIndex:i, yAxisIndex:i, step:'end', symbol:'none', silent:true, animation:false, emphasis:{disabled:true}};
    series.push(bandSeries(i, rows, color));
    series.push(Object.assign({}, common, {name:'ci', z:2, itemStyle:{color},
      lineStyle:{color, width:1, opacity:0.28}, data: rows.map(r => [r[0], r[2]])}));
    series.push(Object.assign({}, common, {name:'ci', z:2, itemStyle:{color},
      lineStyle:{color, width:1, opacity:0.28}, data: rows.map(r => [r[0], r[3]])}));
    series.push(Object.assign({}, common, {name, z:3, itemStyle:{color}, lineStyle:{color, width:2.3},
      data: rows.map(r => [r[0], r[1]])}));
  });
});

chart.setOption({
  animation:false,
  grid: grids, xAxis: xAxes, yAxis: yAxes, series,
  legend: {data:[{name:groupLabels[0], icon:'rect'},{name:groupLabels[1], icon:'rect'}], orient:'vertical', left:409, top:1585,
    itemWidth:24, itemHeight:2.5, itemGap:4, selectedMode:false, backgroundColor:'#fff', borderColor:'#cccccc', borderWidth:1,
    borderRadius:3, padding:[4,6,4,6], textStyle:{fontFamily:FONT, fontSize:11.5, color:'#222'}}
});

// ---------- decorations & text (positions from the chart's own scales) ----------
const g = [];
const rect = (x, y, w, h, fill, z) => ({type:'rect', silent:true, z, shape:{x, y, width:w, height:h}, style:{fill}});
g.push(rect(6, 4.7, 1183, 29.5, '#888888', -10));
g.push(rect(6, 34, 597, 1539, '#c8caf2', -10));
g.push(rect(603, 34, 586, 900, '#e9d1e7', -10));
g.push(rect(603, 934, 586, 634, '#d1ead5', -10));
g.push(rect(603, 1568, 586, 286, '#d9d9d9', -10));
headers.forEach((h, c) => g.push({type:'text', silent:true, z:10, x:HEADER_X[c], y:19.5,
  style:{text:h, fill:'#fff', font:'bold 18px "DejaVu Sans"', align:'center', verticalAlign:'middle'}}));
const txt = (x, y, text, align, size) => ({type:'text', silent:true, z:10, x, y,
  style:{text, fill:'#1a1a1a', fontFamily:FONT, fontSize:size || 11.5, align, verticalAlign:'middle'}});
titles.forEach((t, i) => {
  const X0 = COL_X0[panelCol[i]], Y1 = ROW_Y1[panelRow[i]];
  g.push(rect(X0 - 46, Y1 - 26, 244, 154, '#ffffff', -9));
  g.push({type:'text', silent:true, z:10, x:titleLeft[i], y:Y1 - 19.5,
    style:{text:t, fill:'#000', fontFamily:FONT, fontSize:19.5, align:'left', verticalAlign:'middle'}});
  const pp = chart.convertToPixel({gridIndex:i}, [0, 0.165]);
  g.push({type:'text', silent:true, z:10, x:pp[0], y:pp[1],
    style:{text:'{i|P} = ' + pValues[i], fill:'#000', fontFamily:FONT, fontSize:11.5, align:'left', verticalAlign:'middle',
      rich:{i:{fontStyle:'italic', fontFamily:FONT, fontSize:11.5, fill:'#000'}}}});
  const origin = chart.convertToPixel({gridIndex:i}, [0, 1]);
  const ox = origin[0], oy = origin[1];
  [[riskHigh[i], 143], [riskLow[i], 208]].forEach(([tab, dy], gi) => {
    g.push(txt(ox, oy + dy, groupLabels[gi], 'right'));
    tab.forEach((vals, r) => {
      const yy = oy + dy + 12.8 * (r + 1);
      g.push(txt(ox - (r === 0 ? 30 : 33), yy, riskRowLabels[r], 'right'));
      vals.forEach((v, k) => {
        const px = chart.convertToPixel({gridIndex:i}, [xTicks[k], 0])[0];
        g.push(txt(px, yy, String(v), 'right'));
      });
    });
  });
});
g.push({type:'text', silent:true, z:10, x:-6, y:1831, style:{text:'13', fill:'#000', fontFamily:FONT, fontSize:23, align:'left', verticalAlign:'middle'}});
chart.setOption({graphic:{elements:g}});
</script></body></html>
